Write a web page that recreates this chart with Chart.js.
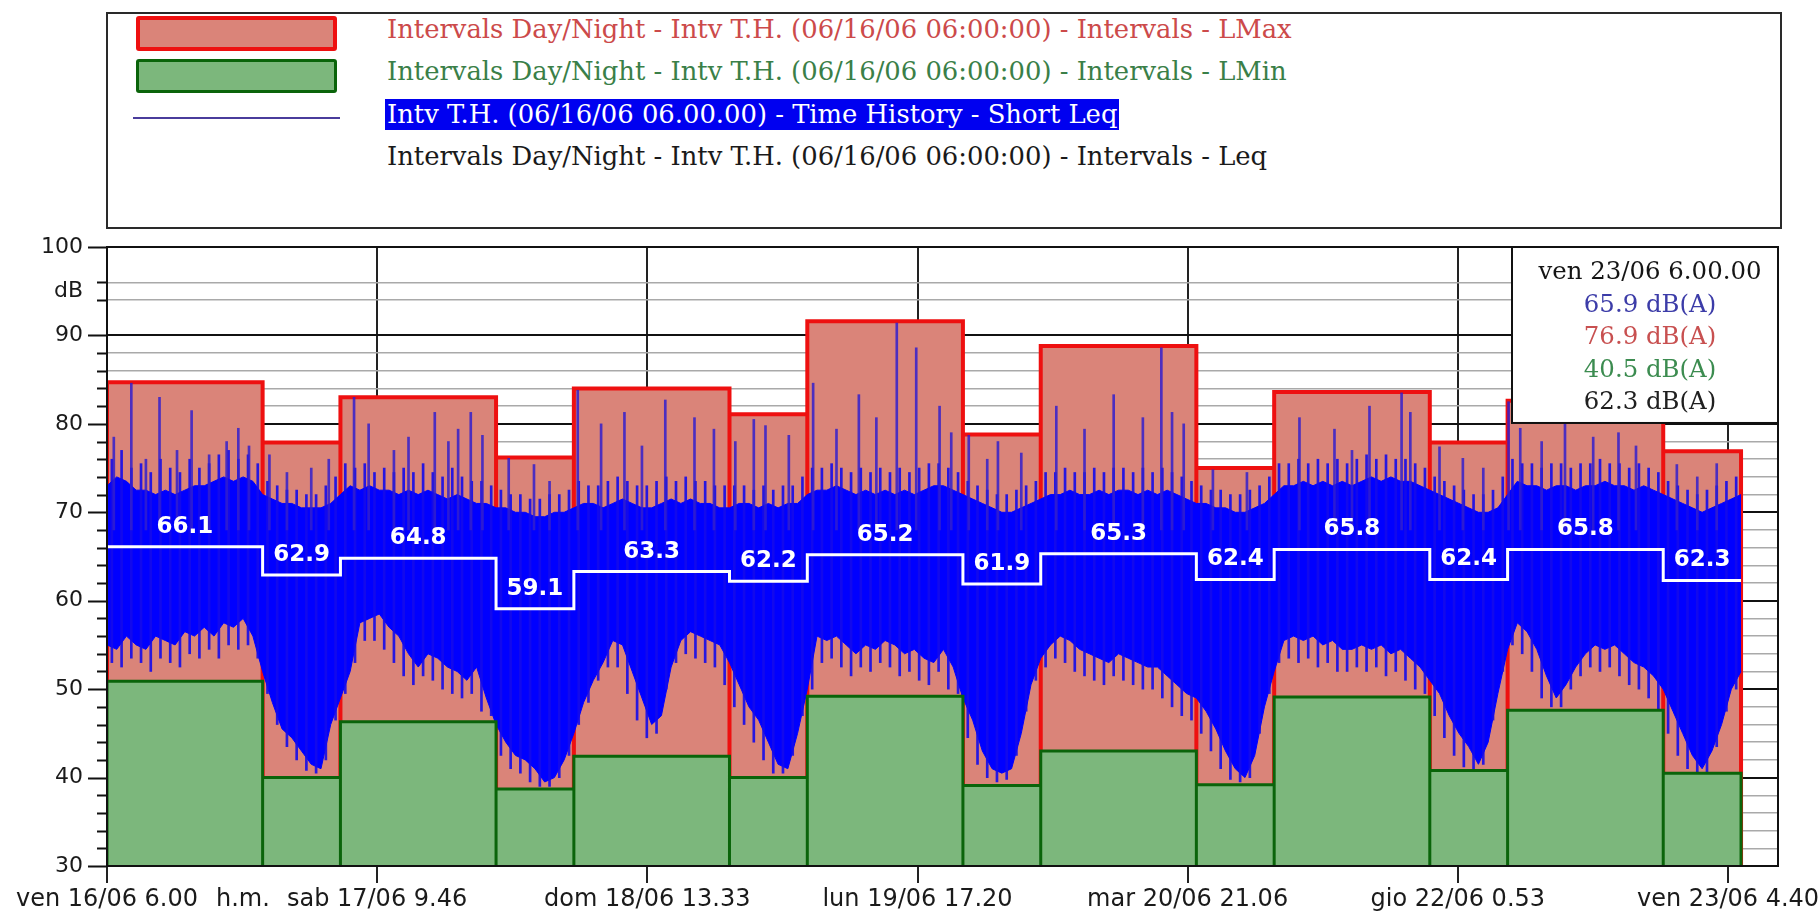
<!DOCTYPE html>
<html>
<head>
<meta charset="utf-8">
<script src="https://cdn.jsdelivr.net/npm/chart.js@4.4.0/dist/chart.umd.min.js"></script>
<style>
  html, body { margin: 0; padding: 0; background: #fff; width: 1820px; height: 913px; overflow: hidden; }
  #wrap { position: relative; width: 1820px; height: 913px; }
  #chart { position: absolute; left: 0; top: 0; }
  #legendBox { position: absolute; left: 106px; top: 12px; width: 1676px; height: 217px;
               border: 2px solid #2a2a2a; box-sizing: border-box; background: #fff; }
  .sw { position: absolute; box-sizing: border-box; }
  .lt { position: absolute; left: 387px; height: 31px; line-height: 31px; white-space: nowrap;
        font-family: "DejaVu Serif", "Liberation Serif", serif; }
  .lt span { display: inline-block; padding: 0 2px; margin-left: -2px; }
</style>
</head>
<body>
<div id="wrap">
  <canvas id="chart" width="1820" height="913"></canvas>
  <div id="legendBox"></div>
  <div class="sw" style="left:136px;top:16px;width:201px;height:35px;background:#da8479;border:4px solid #ee1010;border-radius:3px;"></div>
  <div class="sw" style="left:136px;top:59px;width:201px;height:34px;background:#7cb77c;border:3px solid #0a640a;border-radius:3px;"></div>
  <div class="sw" style="left:133px;top:117px;width:207px;height:2px;background:#4a3c9c;"></div>
  <div id="legendRows"></div>
</div>
<script>
// Intervals Day/Night: hours counted from ven 16/06 6.00 (day 06-22, night 22-06)
const intervalStartHours = [0, 16, 24, 40, 48, 64, 72, 88, 96, 112, 120, 136, 144, 160];
const intervalEndHour = 168;
const intervalLMax = [84.7, 77.9, 83.0, 76.2, 84.0, 81.1, 91.6, 78.8, 88.8, 75.0, 83.6, 77.9, 82.6, 76.9];
const intervalLMin = [50.9, 40.0, 46.3, 38.7, 42.4, 40.0, 49.2, 39.1, 43.0, 39.2, 49.1, 40.8, 47.6, 40.5];
const intervalLeq  = [66.1, 62.9, 64.8, 59.1, 63.3, 62.2, 65.2, 61.9, 65.3, 62.4, 65.8, 62.4, 65.8, 62.3];

// Time History - Short Leq, hourly envelope (upper / lower), h = 0 .. 168
const shortLeqHigh = [
  73, 74, 73.5, 72.5, 72.5, 72, 72.5, 72, 72.5, 73, 73, 73.5, 74, 73.5, 74, 73.5, 72,
  71.5, 71, 71, 70.5, 70.5, 70.5, 71, 72,
  73, 72.5, 73, 72.5, 72.5, 72, 72.5, 72, 72.5, 72, 71.5, 72, 71.5, 71, 71, 70.5,
  70.5, 70, 70, 69.5, 69.5, 70, 70, 70.5,
  71, 71, 70.5, 71, 71.5, 71, 70.5, 70.5, 71, 71.5, 71, 71.5, 71, 71, 70.5, 70.5,
  71, 71, 70.5, 71, 70.5, 71, 71, 72,
  72.5, 72.5, 73, 72.5, 72, 72.5, 72, 72.5, 72, 72.5, 72, 72.5, 73, 73, 72.5, 72,
  71.5, 71, 70.5, 70, 70, 70.5, 71, 71.5,
  72, 72, 72.5, 72, 72, 72.5, 72, 72.5, 72.5, 72, 72.5, 72, 72.5, 72, 71.5, 71,
  71, 70.5, 70.5, 70, 70, 70.5, 71, 72,
  73, 73, 73.5, 73, 73.5, 73, 73.5, 73, 73.5, 74, 73.5, 74, 73.5, 73.5, 73, 72.5,
  72, 71.5, 71, 70.5, 70, 70, 70.5, 72,
  73.5, 73, 73, 72.5, 73, 73, 72.5, 73, 73, 73.5, 73, 73, 72.5, 73, 72.5, 72,
  71.5, 71, 70.5, 70, 70.5, 71, 71.5, 72
];
const shortLeqLow = [
  55, 54.5, 56, 55, 54.5, 56, 55.5, 55, 56.5, 56, 57, 56, 57.5, 57, 58, 56, 52,
  48.5, 45.5, 44.5, 43, 41.5, 41, 46, 49,
  52, 57.5, 58, 58.5, 57, 56, 54, 52.5, 54, 53.5, 52.5, 52, 51, 52.5, 49, 46,
  44, 42.5, 42, 41, 39.5, 40, 42, 45,
  48.5, 51, 53, 55.5, 55, 52, 49, 46, 47, 52.5, 55.5, 56.5, 56, 55.5, 55, 53,
  50.5, 48, 46.5, 44, 41.5, 41, 45, 50,
  56, 55.5, 56, 55, 54, 55, 54.5, 55.5, 55, 54, 54.5, 53.5, 53, 54.5, 52.5, 49,
  46.5, 43, 41, 40.5, 41, 45, 50.5, 53.5,
  55, 56, 55.5, 54.5, 54, 53.5, 53, 54, 53.5, 53, 52.5, 52.5, 51.5, 50.5, 49.5, 49,
  47.5, 45.5, 43, 41, 40, 42.5, 48, 52,
  55.5, 56, 55.5, 56, 55, 55.5, 54.5, 54.5, 55, 54.5, 55, 54, 54.5, 53.5, 52.5, 51,
  49.5, 47, 45, 43.5, 41.5, 44, 49.5, 54.5,
  57.5, 56.5, 54.5, 51.5, 49, 50.5, 52.5, 54, 55, 54.5, 55, 54, 53, 52.5, 51.5, 50,
  47.5, 45, 42.5, 41, 43, 46, 50, 52
];
const shortLeqHours = shortLeqHigh.map((_, i) => i);

// Extremes reached inside each hour (drawn at mid-hour, h = 0.5 .. 167.5)
const hourPeak = [
  76, 77, 75, 75.5, 74.5, 76, 75, 74.5, 76, 75, 75.5, 76.5, 77, 76, 76.5, 75.5,
  73.5, 73, 72.5, 72.5, 72, 72, 73, 74,
  75.5, 75, 75.5, 74.5, 75, 74.5, 75, 74.5, 75.5, 74.5, 74, 75, 74, 73.5, 73.5, 73,
  72.5, 72, 72, 71.5, 71.5, 72, 72, 72.5,
  73.5, 73, 73, 73.5, 74, 73.5, 73, 73, 73.5, 74, 73.5, 74, 73.5, 73.5, 73, 73,
  73, 73, 72.5, 73, 72.5, 73, 73, 74,
  75, 75, 75.5, 75, 74.5, 75, 74.5, 75, 74.5, 75, 74.5, 75, 75.5, 75.5, 75, 74.5,
  73.5, 73, 72.5, 72, 72, 72.5, 73, 73.5,
  74.5, 74.5, 75, 74.5, 74.5, 75, 74.5, 75, 75, 74.5, 75, 74.5, 75, 74.5, 74, 73.5,
  73, 72.5, 72.5, 72, 72, 72.5, 73, 74,
  75.5, 75.5, 76, 75.5, 76, 75.5, 76, 75.5, 76, 76.5, 76, 76.5, 76, 76, 75.5, 75,
  74, 73.5, 73, 72.5, 72, 72, 72.5, 74,
  76, 75.5, 75.5, 75, 75.5, 75.5, 75, 75.5, 75.5, 76, 75.5, 75.5, 75, 75.5, 75, 74.5,
  73.5, 73, 72.5, 72, 72.5, 73, 73.5, 74
];
const hourFloor = [
  53, 52.5, 53.5, 53, 52, 53.5, 53, 52.5, 54, 53.5, 54.5, 53.5, 55, 54.5, 55, 53.5,
  49.5, 46, 43.5, 42, 40.8, 40.5, 42, 46.5,
  49.5, 53, 55.5, 55.5, 54.5, 53, 51.5, 50.5, 51.5, 51, 50, 49.5, 49, 49.5, 47.5, 47,
  42.5, 41, 40.5, 39.5, 39, 39, 40, 42.5,
  46, 48.5, 51, 52.5, 52.5, 49.5, 46.5, 44.5, 45, 50, 53, 54, 53.5, 53, 52.5, 50.5,
  48, 46, 44, 42, 40.5, 40.5, 42.5, 47,
  50, 53, 53.5, 52.5, 51.5, 52.5, 52, 53, 52.5, 51.5, 52, 51, 50.5, 52, 50, 49.5,
  44.5, 41.5, 40, 39.5, 39.8, 42.5, 47.5, 51,
  52.5, 53.5, 53, 52, 51.5, 51, 50.5, 51.5, 51, 50.5, 50, 50, 49, 48, 47, 46.5,
  45, 43, 41, 39.8, 39.5, 40, 45, 49.5,
  53, 53.5, 53, 53.5, 52.5, 53, 52, 52, 52.5, 52, 52.5, 51.5, 52, 51, 50, 49.5,
  47, 44.5, 42.5, 41.2, 41, 41.5, 46.5, 52,
  55, 54, 52, 49, 48, 48, 50, 51.5, 52.5, 52, 52.5, 51.5, 50.5, 50, 49, 47.5,
  45, 42.5, 41, 40.6, 40.6, 43.5, 47.5, 50
];
const hourMarks = hourPeak.map((_, i) => i + 0.5);

// Isolated short events rising above the Short Leq band
const spikeHours = [
  0.7, 2.5, 4.0, 5.4, 7.2, 8.7, 10.5, 12.3, 13.5, 14.6,
  16.7, 18.5, 21.0, 22.8,
  25.4, 26.9, 29.5, 31.0, 33.7, 35.1, 36.1, 37.4, 38.6,
  41.3, 43.9, 45.5,
  48.4, 50.8, 53.2, 55.0, 57.4, 60.4, 62.4,
  64.6, 66.5, 67.7, 70.1,
  72.6, 75.0, 77.3, 79.1, 81.2, 83.2, 85.6, 86.8,
  88.6, 90.5, 91.6, 94.0,
  97.6, 100.5, 103.5, 106.5, 108.4, 109.5, 110.7,
  113.7, 117.2,
  122.6, 126.2, 128.0, 129.8, 133.1, 134.0,
  137.0, 139.4, 141.5,
  144.1, 145.3, 147.5, 149.9, 152.8, 155.4, 157.2,
  161.4, 163.5, 165.5
];
const spikeHigh = [
  78.5, 84.6, 76.0, 83.0, 77.0, 81.5, 76.5, 78.0, 79.5, 77.5,
  76.5, 74.5, 75.0, 76.0,
  83.0, 80.0, 77.0, 78.5, 81.3, 78.0, 79.4, 81.3, 78.7,
  76.1, 75.4, 73.5,
  83.8, 80.0, 81.3, 77.5, 82.7, 80.7, 79.4,
  78.0, 80.5, 79.8, 78.7,
  84.6, 79.4, 83.3, 80.7, 91.4, 88.6, 82.0, 79.0,
  78.7, 76.0, 78.0, 76.7,
  82.0, 79.4, 83.3, 80.7, 88.6, 81.3, 80.0,
  74.8, 74.5,
  80.7, 79.4, 77.0, 82.0, 83.5, 81.3,
  77.4, 76.1, 75.0,
  82.5, 79.5, 78.0, 80.0, 78.5, 79.0, 77.5,
  75.4, 74.0, 75.5
];
const spikeBase = 68;

// Time axis labels
const xTickHours = [0, 27.767, 55.55, 83.333, 111.1, 138.883, 166.667];
const xTickLabels = ['ven 16/06 6.00', 'sab 17/06 9.46', 'dom 18/06 13.33', 'lun 19/06 17.20',
                     'mar 20/06 21.06', 'gio 22/06 0.53', 'ven 23/06 4.40'];
const xUnitLabel = 'h.m.';
const yUnitLabel = 'dB';
const yMin = 30, yMax = 100, xMax = 171.8;

// Cursor readout (ven 23/06 6.00.00)
const cursorLabel = 'ven 23/06 6.00.00';
const cursorShortLeq = 65.9;

const legendLabels = [
  'Intervals Day/Night - Intv T.H. (06/16/06 06:00:00) - Intervals - LMax',
  'Intervals Day/Night - Intv T.H. (06/16/06 06:00:00) - Intervals - LMin',
  'Intv T.H. (06/16/06 06.00.00) - Time History - Short Leq',
  'Intervals Day/Night - Intv T.H. (06/16/06 06:00:00) - Intervals - Leq'
];
const legendColors = ['#cc4a4a', '#3a7f48', '#ffffff', '#1a1a1a'];
const legendRowCenters = [29, 71, 114, 156];

const COLORS = {
  lmaxFill: '#da8479', lmaxLine: '#ee1010',
  lminFill: '#7cb77c', lminLine: '#0a640a',
  blue: '#0000ff', spike: 'rgba(50,30,205,0.85)', hair: 'rgba(20,10,235,0.9)',
  leq: '#ffffff'
};

// ---- helpers ----
const measureCtx = document.createElement('canvas').getContext('2d');
function fitFontPx(text, family, weight, width) {
  measureCtx.font = `${weight} 100px ${family}`;
  return 100 * width / measureCtx.measureText(text).width;
}
function intervalEnd(i) {
  return i + 1 < intervalStartHours.length ? intervalStartHours[i + 1] : intervalEndHour;
}
// Closed outline of interval blocks so every block gets its own edges
function blockOutline(values) {
  const pts = [];
  values.forEach((v, i) => {
    const s = intervalStartHours[i], e = intervalEnd(i);
    pts.push({x: s, y: yMin}, {x: s, y: v}, {x: e, y: v}, {x: e, y: yMin});
  });
  return pts;
}
function stepPoints(values) {
  const pts = values.map((v, i) => ({x: intervalStartHours[i], y: v}));
  pts.push({x: intervalEndHour, y: values[values.length - 1]});
  return pts;
}

// ---- legend ----
const legendFont = fitFontPx(legendLabels[0], '"DejaVu Serif"', 'normal', 905);
const rows = document.getElementById('legendRows');
legendLabels.forEach((t, i) => {
  const d = document.createElement('div');
  d.className = 'lt';
  d.style.top = (legendRowCenters[i] - 15.5) + 'px';
  d.style.fontSize = legendFont.toFixed(2) + 'px';
  const s = document.createElement('span');
  s.textContent = t;
  s.style.color = legendColors[i];
  if (i === 2) s.style.background = '#0000f0';
  d.appendChild(s);
  rows.appendChild(d);
});

// ---- overlays drawn on the canvas ----
const overlays = {
  id: 'overlays',
  afterDatasetsDraw(chart) {
    const {ctx, chartArea: a, scales: {x, y}} = chart;
    ctx.save();
    // interval Leq values above the white step line
    ctx.font = 'bold 23px "DejaVu Sans"';
    ctx.fillStyle = '#ffffff';
    ctx.textAlign = 'center';
    ctx.textBaseline = 'middle';
    intervalLeq.forEach((v, i) => {
      const cx = x.getPixelForValue((intervalStartHours[i] + intervalEnd(i)) / 2);
      ctx.fillText(v.toFixed(1), cx, y.getPixelForValue(v) - 20);
    });

    // cursor readout box
    const bw = 266, bh = y.getPixelForValue(80.1) - a.top;
    const bx = a.right - bw, by = a.top;
    ctx.fillStyle = '#ffffff';
    ctx.fillRect(bx, by, bw, bh);
    ctx.strokeStyle = '#111';
    ctx.lineWidth = 2;
    ctx.strokeRect(bx, by, bw, bh);
    const fpx = fitFontPx(cursorLabel, '"DejaVu Serif"', 'normal', 223);
    ctx.font = `${fpx.toFixed(2)}px "DejaVu Serif"`;
    const lines = [
      [cursorLabel, '#151515'],
      [cursorShortLeq.toFixed(1) + ' dB(A)', '#3c3ca8'],
      [intervalLMax[intervalLMax.length - 1].toFixed(1) + ' dB(A)', '#c85050'],
      [intervalLMin[intervalLMin.length - 1].toFixed(1) + ' dB(A)', '#3c8c50'],
      [intervalLeq[intervalLeq.length - 1].toFixed(1) + ' dB(A)', '#202020']
    ];
    const cx = bx + bw / 2 + 5;
    lines.forEach(([t, c], i) => {
      ctx.fillStyle = c;
      ctx.fillText(t, cx, by + 26 + i * 32.5);
    });
    ctx.restore();
  },
  afterDraw(chart) {
    const {ctx, chartArea: a, scales: {y}} = chart;
    ctx.save();
    // plot frame
    ctx.strokeStyle = '#111';
    ctx.lineWidth = 2;
    ctx.strokeRect(a.left, a.top, a.right - a.left, a.bottom - a.top);
    // y tick marks: long at decades, short at 2 dB steps
    ctx.beginPath();
    for (let v = yMin; v <= yMax; v += 2) {
      if (v === 98 || v === 92) continue;
      const len = v % 10 === 0 ? 19 : 10;
      const py = Math.round(y.getPixelForValue(v)) + 0.5;
      ctx.moveTo(a.left - len, py);
      ctx.lineTo(a.left, py);
    }
    ctx.lineWidth = 2;
    ctx.stroke();
    // unit labels
    ctx.fillStyle = '#1a1a1a';
    ctx.font = '22px "DejaVu Sans"';
    ctx.textAlign = 'right';
    ctx.textBaseline = 'middle';
    ctx.fillText(yUnitLabel, a.left - 24, y.getPixelForValue(95));
    ctx.font = '24px "DejaVu Sans"';
    ctx.textAlign = 'left';
    ctx.fillText(xUnitLabel, 216, 900);
    ctx.restore();
  }
};

new Chart(document.getElementById('chart'), {
  type: 'line',
  data: {
    datasets: [
      { // 0: LMax blocks
        label: 'LMax', data: blockOutline(intervalLMax), order: 7,
        borderColor: COLORS.lmaxLine, borderWidth: 4, backgroundColor: COLORS.lmaxFill,
        fill: 'start', pointRadius: 0, tension: 0, borderJoinStyle: 'miter'
      },
      { // 1: Short Leq lower envelope
        label: 'Short Leq low', data: shortLeqHours.map((h, i) => ({x: h, y: shortLeqLow[i]})), order: 6,
        borderColor: COLORS.blue, borderWidth: 1, fill: false, pointRadius: 0, tension: 0
      },
      { // 2: Short Leq upper envelope, filled down to the lower one
        label: 'Short Leq', data: shortLeqHours.map((h, i) => ({x: h, y: shortLeqHigh[i]})), order: 5,
        borderColor: COLORS.blue, borderWidth: 1, backgroundColor: COLORS.blue,
        fill: '-1', pointRadius: 0, tension: 0
      },
      { // 3: hourly extremes of the Short Leq
        type: 'bar', label: 'hour range',
        data: hourMarks.map((h, i) => ({x: h, y: [hourFloor[i], hourPeak[i]]})), order: 4,
        backgroundColor: COLORS.hair, borderWidth: 0, barThickness: 2, grouped: false
      },
      { // 4: short events
        type: 'bar', label: 'events',
        data: spikeHours.map((h, i) => ({x: h, y: [spikeBase, spikeHigh[i]]})), order: 3,
        backgroundColor: COLORS.spike, borderWidth: 0, barThickness: 2, grouped: false
      },
      { // 5: LMin blocks
        label: 'LMin', data: blockOutline(intervalLMin), order: 2,
        borderColor: COLORS.lminLine, borderWidth: 3, backgroundColor: COLORS.lminFill,
        fill: 'start', pointRadius: 0, tension: 0, borderJoinStyle: 'miter'
      },
      { // 6: interval Leq step line
        label: 'Leq', data: stepPoints(intervalLeq), order: 1,
        borderColor: COLORS.leq, borderWidth: 3, stepped: true, fill: false, pointRadius: 0
      }
    ]
  },
  options: {
    responsive: false,
    devicePixelRatio: 1,
    animation: false,
    events: [],
    layout: { padding: { left: 0, top: 247, right: 42, bottom: 0 } },
    plugins: { legend: { display: false }, tooltip: { enabled: false } },
    scales: {
      x: {
        type: 'linear', min: 0, max: xMax, offset: false,
        afterBuildTicks: s => { s.ticks = xTickHours.map(v => ({value: v})); },
        afterFit: s => { s.height = 47; s.paddingLeft = 0; s.paddingRight = 0; },
        ticks: {
          autoSkip: false, maxRotation: 0, padding: 2,
          font: { family: '"DejaVu Sans"', size: 24 }, color: '#1a1a1a',
          callback: (v, i) => xTickLabels[i]
        },
        grid: { offset: false, color: '#222', lineWidth: 2, tickLength: 17, tickColor: '#222', tickWidth: 2 },
        border: { display: true, color: '#111', width: 2, z: 1 }
      },
      y: {
        min: yMin, max: yMax,
        afterFit: s => { s.width = 107; },
        ticks: {
          stepSize: 2, autoSkip: false, padding: 24,
          font: { family: '"DejaVu Sans"', size: 22 }, color: '#1a1a1a',
          callback: v => (v % 10 === 0 ? String(v) : '')
        },
        grid: {
          drawTicks: false,
          color: c => {
            const v = c.tick.value;
            if (v % 10 === 0) return '#111';
            if (v === 98 || v === 92) return 'rgba(0,0,0,0)';
            return '#a9a9a9';
          },
          lineWidth: c => (c.tick.value % 10 === 0 ? 2 : 1.5)
        },
        border: { display: true, color: '#111', width: 2, z: 1 }
      }
    }
  },
  plugins: [overlays]
});
</script>
</body>
</html>
